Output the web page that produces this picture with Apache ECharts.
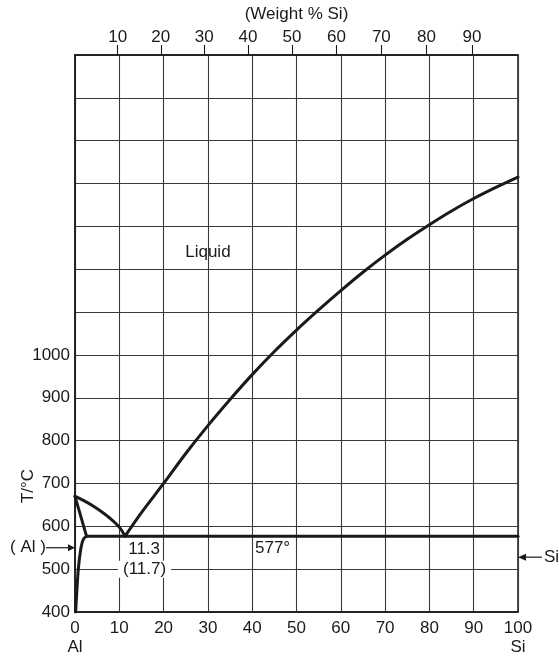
<!DOCTYPE html>
<html>
<head>
<meta charset="utf-8">
<script src="https://cdn.jsdelivr.net/npm/echarts@6/dist/echarts.min.js"></script>
<style>
html,body{margin:0;padding:0;background:#fff;}
#chart{width:559px;height:658px;}
</style>
</head>
<body>
<div id="chart"></div>
<script>
// ---- data (atom % Si, T / °C) ----
const xTicks = [0, 10, 20, 30, 40, 50, 60, 70, 80, 90, 100];
const yTicks = [400, 500, 600, 700, 800, 900, 1000];
const weightTicks = [10, 20, 30, 40, 50, 60, 70, 80, 90];
const liquidusAl = [[0, 670], [2, 660], [4, 648], [6, 634], [8, 618], [10, 598], [11.3, 577]];
const liquidusSi = [[11.3, 577], [15, 632], [20, 700], [25, 770], [30, 835], [35, 896], [40, 954], [45, 1008], [50, 1058], [55, 1105], [60, 1150], [65, 1193], [70, 1233], [75, 1270], [80, 1304], [85, 1336], [90, 1365], [95, 1391], [100, 1415]];
const solidusAl = [[0, 670], [2.6, 577]];
const solvusAl = [[0.15, 400], [0.75, 500], [1.35, 550], [1.9, 570], [2.6, 577]];
const eutectic = [[2.6, 577], [100, 577]];

// weight % -> atom % (atomic masses Al 26.982, Si 28.086)
const MAl = 26.982, MSi = 28.086;
const weightPos = weightTicks.map(w => {
  const nSi = w / MSi, nAl = (100 - w) / MAl;
  return 100 * nSi / (nSi + nAl);
});

const FONT = '"Liberation Sans", Arial, Helvetica, sans-serif';
const INK = '#1a1a1a';
const GRID = '#3a3a3a';

const chart = echarts.init(document.getElementById('chart'), null, {renderer: 'canvas'});

const lineSeries = (data, smooth) => ({
  type: 'line', data: data, symbol: 'none', silent: true, z: 5, smooth: smooth || false,
  lineStyle: {color: INK, width: 3, cap: 'round', join: 'round'},
  animation: false
});

chart.setOption({
  animation: false,
  backgroundColor: '#fff',
  textStyle: {fontFamily: FONT},
  grid: {left: 75, right: 41, top: 55, bottom: 46, show: true, borderColor: INK, borderWidth: 1.5,
         backgroundColor: 'transparent', containLabel: false, outerBoundsMode: 'none'},
  xAxis: [{
    type: 'value', min: 0, max: 100, interval: 10, position: 'bottom',
    axisLine: {show: true, lineStyle: {color: INK, width: 1.5}},
    axisTick: {show: false},
    splitLine: {show: true, lineStyle: {color: GRID, width: 1.1}},
    axisLabel: {
      color: INK, fontSize: 17, fontFamily: FONT, margin: 7, lineHeight: 19,
      formatter: v => v === 0 ? '0\nAl' : (v === 100 ? '100\nSi' : String(v))
    },
    name: 'Atom  % Si', nameLocation: 'middle', nameGap: 28,
    nameTextStyle: {color: INK, fontSize: 17, fontFamily: FONT}
  }, {
    type: 'value', min: 0, max: 100, position: 'top',
    axisLine: {show: true, lineStyle: {color: INK, width: 1.5}},
    axisTick: {show: true, inside: false, length: 10, customValues: weightPos, lineStyle: {color: INK, width: 1.1}},
    splitLine: {show: false},
    axisLabel: {
      show: true, customValues: weightPos, color: INK, fontSize: 17, fontFamily: FONT, margin: 9,
      formatter: v => {
        let best = 0, bd = 1e9;
        weightPos.forEach((p, i) => { const d = Math.abs(p - v); if (d < bd) { bd = d; best = i; } });
        return String(weightTicks[best]);
      }
    },
    name: '(Weight % Si)', nameLocation: 'middle', nameGap: 32,
    nameTextStyle: {color: INK, fontSize: 17, fontFamily: FONT}
  }],
  yAxis: {
    type: 'value', min: 400, max: 1700, interval: 100,
    axisLine: {show: true, lineStyle: {color: INK, width: 1.5}},
    axisTick: {show: false},
    splitLine: {show: true, lineStyle: {color: GRID, width: 1.1}},
    axisLabel: {
      color: INK, fontSize: 17, fontFamily: FONT, margin: 5,
      formatter: v => yTicks.indexOf(v) >= 0 ? String(v) : ''
    }
  },
  series: [
    lineSeries(liquidusAl, 0.3),
    lineSeries(liquidusSi, 0.3),
    lineSeries(solidusAl),
    lineSeries(solvusAl, 0.3),
    lineSeries(eutectic)
  ]
});

// ---- annotations placed in data coordinates ----
const px = (x, t) => chart.convertToPixel({gridIndex: 0}, [x, t]);
const txt = (p, s, opts) => Object.assign({
  type: 'text', x: p[0], y: p[1], z: 10,
  style: Object.assign({text: s, fill: INK, font: '17px ' + FONT, align: 'center', verticalAlign: 'middle'}, (opts && opts.style) || {})
}, (opts && opts.el) || {});

const pLiquid = px(30, 1240);
const p577 = px(44.6, 549);
const p113 = px(15.6, 547);
const p117 = px(15.7, 500);
const pAl = px(0, 550);
const pSi = px(100, 528);
const pT = px(0, 694);

const graphics = [
  txt(pLiquid, 'Liquid'),
  txt(p577, '577°'),
  txt(p113, '11.3', {style: {backgroundColor: '#fff', padding: [0, 2]}}),
  txt(p117, '(11.7)', {style: {backgroundColor: '#fff', padding: [0, 5]}}),
  txt([pAl[0] - 47, pAl[1]], '( Al )'),
  // (Al) arrow
  {type: 'line', z: 10, shape: {x1: pAl[0] - 29, y1: pAl[1], x2: pAl[0] - 6, y2: pAl[1]}, style: {stroke: INK, lineWidth: 1.2}},
  {type: 'polygon', z: 10, shape: {points: [[pAl[0] - 7, pAl[1] - 3.5], [pAl[0] - 7, pAl[1] + 3.5], [pAl[0], pAl[1]]]}, style: {fill: INK}},
  // Si arrow
  {type: 'line', z: 10, shape: {x1: pSi[0] + 6, y1: pSi[1], x2: pSi[0] + 24, y2: pSi[1]}, style: {stroke: INK, lineWidth: 1.2}},
  {type: 'polygon', z: 10, shape: {points: [[pSi[0] + 8, pSi[1] - 3.5], [pSi[0] + 8, pSi[1] + 3.5], [pSi[0], pSi[1]]]}, style: {fill: INK}},
  txt([pSi[0] + 26, pSi[1]], 'Si', {style: {align: 'left'}}),
  // T/°C axis title
  {type: 'text', z: 10, x: pT[0] - 47, y: pT[1], rotation: Math.PI / 2,
   style: {text: 'T/°C', fill: INK, font: '17px ' + FONT, align: 'center', verticalAlign: 'middle'}}
];
chart.setOption({graphic: graphics});
</script>
</body>
</html>
